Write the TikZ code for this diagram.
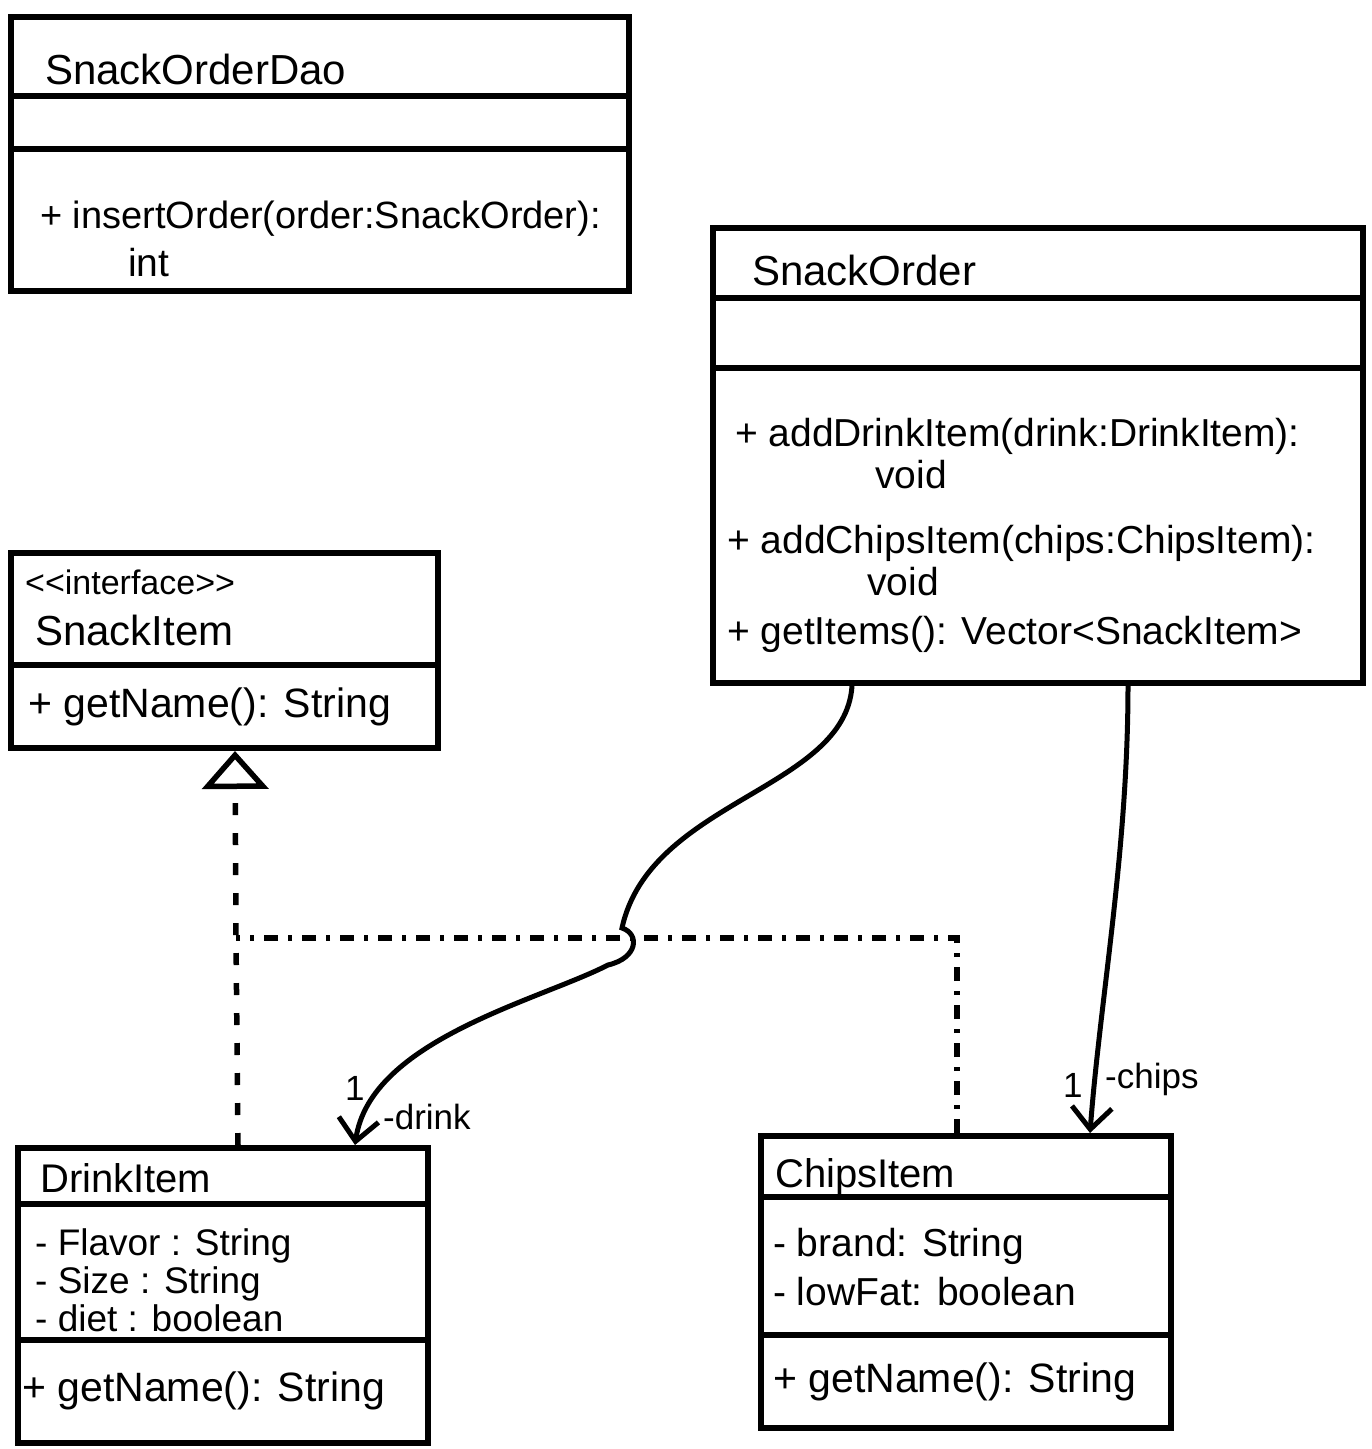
\documentclass[tikz,border=0pt]{standalone}
\usepackage{fontspec}
\setmainfont{Liberation Sans}
\newfontfamily\rawfont[Ligatures=TeXOff]{Liberation Sans}
\usetikzlibrary{arrows.meta,calc}
\begin{document}
\begin{tikzpicture}[x=1pt,y=-1pt,
  box/.style={draw, line width=6pt, rectangle, inner sep=0pt, anchor=north west},
  sepline/.style={line width=5.5pt},
  ttl/.style={anchor=base west, inner sep=0pt, font=\fontsize{42}{48}\selectfont},
  txt/.style={anchor=base west, inner sep=0pt, font=\fontsize{39}{44}\selectfont},
  attr/.style={anchor=base west, inner sep=0pt, font=\fontsize{37}{42}\selectfont},
  lbl/.style={anchor=base west, inner sep=0pt, font=\fontsize{35}{40}\selectfont},
  assoc/.style={line width=5pt, -{Straight Barb[length=22pt,width=40pt]}},
  real/.style={line width=5.5pt, dash pattern=on 12pt off 18pt},
  realdd/.style={line width=5.5pt, dash pattern=on 14pt off 10pt on 4pt off 10pt},
]
\fill[white] (0,0) rectangle (1372,1449);
\useasboundingbox (0,0) rectangle (1372,1449);

% ---------- SnackOrderDao ----------
\node[box, minimum width=618pt, minimum height=274pt] (dao) at (8,14) {};
\draw[sepline] (dao.west |- 0,96) -- (dao.east |- 0,96);
\draw[sepline] (dao.west |- 0,149) -- (dao.east |- 0,149);
\node[ttl] (daot) at (45,84) {SnackOrderDao};
\node[txt, font=\fontsize{38}{44}\selectfont] (daom1) at (40,228) {+ insertOrder(order:SnackOrder):};
\node[txt] (daom2) at (128,276) {int};

% ---------- SnackOrder ----------
\node[box, minimum width=650pt, minimum height=455pt] (so) at (710,225) {};
\draw[sepline] (so.west |- 0,298) -- (so.east |- 0,298);
\draw[sepline] (so.west |- 0,368) -- (so.east |- 0,368);
\node[ttl] (sot) at (752,285) {SnackOrder};
\node[txt] (som1) at (735,446) {+ addDrinkItem(drink:DrinkItem):};
\node[txt] (som1v) at (875,488) {void};
\node[txt] (som2) at (727,553) {+ addChipsItem(chips:ChipsItem):};
\node[txt] (som2v) at (867,595) {void};
\node[txt] (som3) at (727,644) {+ getItems(): Vector<SnackItem>};

% ---------- SnackItem ----------
\node[box, minimum width=427pt, minimum height=195pt] (si) at (8,550) {};
\draw[sepline] (si.west |- 0,665) -- (si.east |- 0,665);
\node[txt, font=\rawfont\fontsize{34}{38}\selectfont] (sis) at (25,594) {<<interface>>};
\node[ttl] (sit) at (35,645) {SnackItem};
\node[txt, font=\fontsize{41}{46}\selectfont] (sim) at (28,717) {+ getName(): String};

% ---------- DrinkItem ----------
\node[box, minimum width=410pt, minimum height=295pt] (di) at (15,1145) {};
\draw[sepline] (di.west |- 0,1204) -- (di.east |- 0,1204);
\draw[sepline] (di.west |- 0,1340) -- (di.east |- 0,1340);
\node[ttl, font=\fontsize{40}{46}\selectfont] (dit) at (40,1192) {DrinkItem};
\node[attr] (dia1) at (35,1255) {- Flavor : String};
\node[attr] (dia2) at (35,1293) {- Size : String};
\node[attr] (dia3) at (35,1331) {- diet : boolean};
\node[txt, font=\fontsize{41}{46}\selectfont] (dim) at (22,1401) {+ getName(): String};

% ---------- ChipsItem ----------
\node[box, minimum width=410pt, minimum height=292pt] (ci) at (758,1133) {};
\draw[sepline] (ci.west |- 0,1197) -- (ci.east |- 0,1197);
\draw[sepline] (ci.west |- 0,1335) -- (ci.east |- 0,1335);
\node[ttl, font=\fontsize{40}{46}\selectfont] (cit) at (775,1187) {ChipsItem};
\node[txt] (cia1) at (773,1256) {- brand: String};
\node[txt] (cia2) at (773,1305) {- lowFat: boolean};
\node[txt, font=\fontsize{41}{46}\selectfont] (cim) at (773,1392) {+ getName(): String};

% ---------- realization ----------
\coordinate (jn) at (236,938);
\draw[real, -{Triangle[open,length=38pt,width=66pt]}]
  ($(di.north west)+(223,0)$) -- (jn) -- ($(si.south west)+(227,0)$);
\draw[realdd] ($(ci.north west)+(199,0)$) |- (jn);

% ---------- associations ----------
\draw[assoc] ($(so.south west)+(142,0)$)
  .. controls (845,790) and (650,800) .. (622,928)
  .. controls (640,934) and (638,958) .. (608,965)
  .. controls (540,1000) and (370,1040) .. ($(di.north west)+(340,0)$);
\node[lbl] (l1d) at (345,1100) {1};
\node[lbl] (l2d) at (383,1129) {-drink};

\draw[assoc] ($(so.south west)+(418,0)$)
  .. controls (1128,850) and (1100,1000) .. ($(ci.north west)+(332,0)$);
\node[lbl] (l1c) at (1063,1097) {1};
\node[lbl] (l2c) at (1105,1088) {-chips};
\end{tikzpicture}
\end{document}
